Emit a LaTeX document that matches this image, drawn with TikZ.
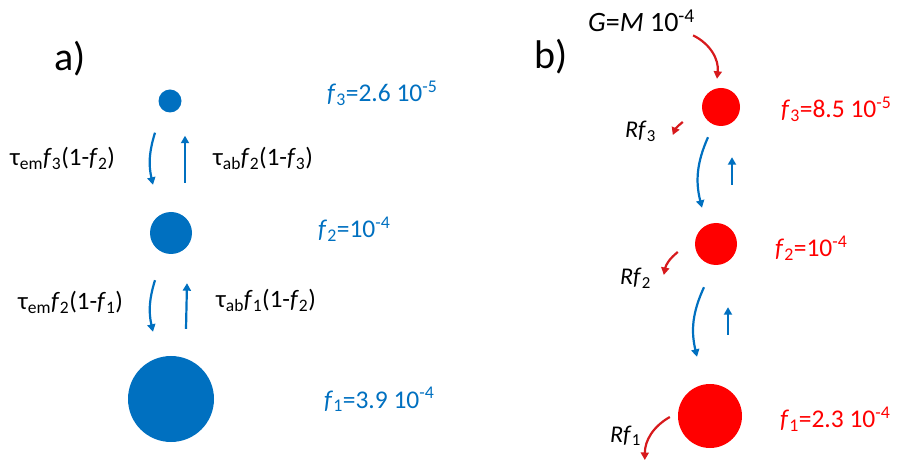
\documentclass[tikz,border=0pt]{standalone}
\usepackage{fontspec}
\setmainfont{Carlito}
\usetikzlibrary{arrows.meta,calc}
\definecolor{dotblue}{HTML}{0070C0}
\definecolor{dotred}{HTML}{FF0000}
\definecolor{lossred}{HTML}{D7191C}
\newcommand\fv[1]{\textit{f}\textsubscript{#1}}
\newcommand\ex[1]{\textsuperscript{#1}}

\begin{document}
\begin{tikzpicture}[x=1pt, y=-1pt,
  txt/.style={font=\fontsize{25.5}{29}\selectfont, inner sep=0pt, anchor=base west},
  panel/.style={font=\fontsize{40}{44}\selectfont, inner sep=0pt},
  dot/.style={circle, inner sep=0pt, fill=#1},
  flow/.style={-{Triangle[length=7.5pt,width=8pt]}, line width=2.2pt, draw=dotblue},
  loss/.style={-{Triangle[length=7.5pt,width=8pt]}, line width=2.2pt, draw=lossred}
]
\useasboundingbox (0,0) rectangle (900,462);
% panel a
\node[panel] (pa) at (70,59) {a)};
\node[dot=dotblue, minimum size=23pt] (a3) at (170,101) {};
\node[dot=dotblue, minimum size=42pt] (a2) at (171,233) {};
\node[dot=dotblue, minimum size=86pt] (a1) at (171,399) {};
\node[txt, text=dotblue] (fa3) at (327,102) {\fv{3}=2.6 10\ex{-5}};
\node[txt, text=dotblue] (fa2) at (318,238) {\fv{2}=10\ex{-4}};
\node[txt, text=dotblue] (fa1) at (324,408) {\fv{1}=3.9 10\ex{-4}};
\node[txt, font=\fontsize{25}{29}\selectfont] (em32) at (10,166) {τ\textsubscript{em}\fv{3}(1-\fv{2})};
\node[txt, font=\fontsize{25}{29}\selectfont] (ab23) at (213,166) {τ\textsubscript{ab}\fv{2}(1-\fv{3})};
\node[txt, font=\fontsize{25}{29}\selectfont] (em21) at (18,310) {τ\textsubscript{em}\fv{2}(1-\fv{1})};
\node[txt, font=\fontsize{25}{29}\selectfont] (ab12) at (216,308) {τ\textsubscript{ab}\fv{1}(1-\fv{2})};
\draw[flow] ($(a3.south)+(-15,20)$) to[bend right=15] ($(a2.north)+(-18,-27)$);
\draw[flow] ($(a2.north)+(14,-29)$) -- ($(a3.south)+(15,23)$);
\draw[flow] ($(a2.south)+(-16,26)$) to[bend right=15] ($(a1.north)+(-18,-24)$);
\draw[flow] ($(a1.north)+(15,-27)$) -- ($(a2.south)+(16,29)$);
% panel b
\node[panel] (pb) at (551,57) {b)};
\node[dot=dotred, minimum size=38pt] (b3) at (721,107) {};
\node[dot=dotred, minimum size=42pt] (b2) at (716,244) {};
\node[dot=dotred, minimum size=64pt] (b1) at (710,416) {};
\node[txt, font=\fontsize{28}{32}\selectfont] (gin) at (588,32) {\textit{G}=\textit{M} 10\ex{-4}};
\node[txt, text=dotred] (fb3) at (781,118) {\fv{3}=8.5 10\ex{-5}};
\node[txt, text=dotred] (fb2) at (775,257) {\fv{2}=10\ex{-4}};
\node[txt, text=dotred] (fb1) at (780,428) {\fv{1}=2.3 10\ex{-4}};
\node[txt, font=\fontsize{24}{28}\selectfont] (r3) at (625,138) {\textit{Rf}\textsubscript{3}};
\node[txt, font=\fontsize{24}{28}\selectfont] (r2) at (620,285) {\textit{Rf}\textsubscript{2}};
\node[txt, font=\fontsize{24}{28}\selectfont] (r1) at (610,442) {\textit{Rf}\textsubscript{1}};
\draw[loss] ($(gin.south east)+(-2,3)$) to[bend left=35] ($(b3.north)+(-4,-9)$);
\draw[loss] ($(b3.west)+(-19,15)$) to[bend right=15] ($(b3.west)+(-29,28)$);
\draw[loss] ($(b2.west)+(-17,8)$) to[bend right=20] ($(b2.west)+(-31,31)$);
\draw[loss] ($(b1.west)+(-8,1)$) to[bend right=30] ($(b1.west)+(-33,44)$);
\draw[flow] ($(b3.south)+(-13,11)$) to[bend right=19] ($(b2.north)+(-14,-15)$);
\draw[flow] ($(b2.north)+(16,-38)$) -- ($(b3.south)+(11,31)$);
\draw[flow] ($(b2.south)+(-12,22)$) to[bend right=19] ($(b1.north)+(-13,-27)$);
\draw[flow] ($(b1.north)+(18,-49)$) -- ($(b2.south)+(12,42)$);
\end{tikzpicture}
\end{document}
